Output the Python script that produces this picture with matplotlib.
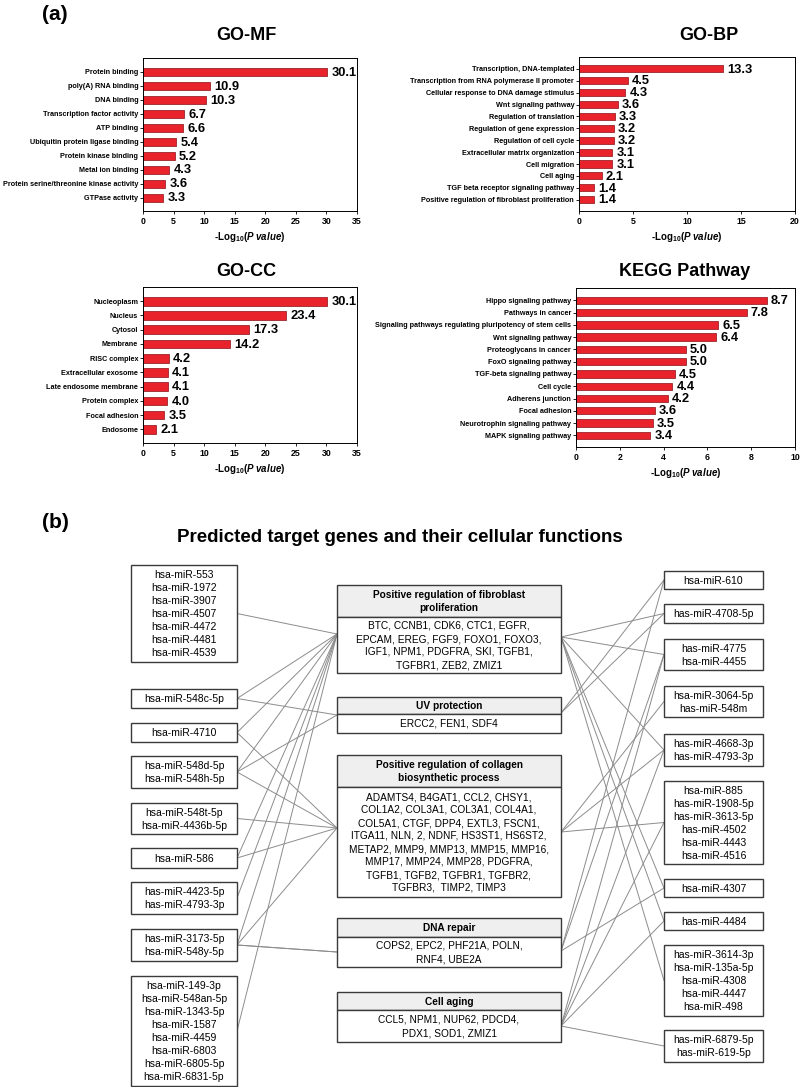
import matplotlib.pyplot as plt
from matplotlib.patches import Rectangle

plt.rcParams['font.family'] = ['Liberation Sans', 'DejaVu Sans']
plt.rcParams['mathtext.fontset'] = 'custom'
plt.rcParams['mathtext.rm'] = 'Liberation Sans'
plt.rcParams['mathtext.bf'] = 'Liberation Sans:bold'
plt.rcParams['mathtext.it'] = 'Liberation Sans:italic'
plt.rcParams['mathtext.bfit'] = 'Liberation Sans:bold:italic'

# ---- (a) enrichment data ----
mf_terms = ["Protein binding", "poly(A) RNA binding", "DNA binding", "Transcription factor activity",
            "ATP binding", "Ubiquitin protein ligase binding", "Protein kinase binding",
            "Metal ion binding", "Protein serine/threonine kinase activity", "GTPase activity"]
mf_values = [30.1, 10.9, 10.3, 6.7, 6.6, 5.4, 5.2, 4.3, 3.6, 3.3]

bp_terms = ["Transcription, DNA-templated", "Transcription from RNA polymerase II promoter",
            "Cellular response to DNA damage stimulus", "Wnt signaling pathway",
            "Regulation of translation", "Regulation of gene expression", "Regulation of cell cycle",
            "Extracellular matrix organization", "Cell migration", "Cell aging",
            "TGF beta receptor signaling pathway", "Positive regulation of fibroblast proliferation"]
bp_values = [13.3, 4.5, 4.3, 3.6, 3.3, 3.2, 3.2, 3.1, 3.1, 2.1, 1.4, 1.4]

cc_terms = ["Nucleoplasm", "Nucleus", "Cytosol", "Membrane", "RISC complex", "Extracellular exosome",
            "Late endosome membrane", "Protein complex", "Focal adhesion", "Endosome"]
cc_values = [30.1, 23.4, 17.3, 14.2, 4.2, 4.1, 4.1, 4.0, 3.5, 2.1]

kegg_terms = ["Hippo signaling pathway", "Pathways in cancer",
              "Signaling pathways regulating pluripotency of stem cells", "Wnt signaling pathway",
              "Proteoglycans in cancer", "FoxO signaling pathway", "TGF-beta signaling pathway",
              "Cell cycle", "Adherens junction", "Focal adhesion", "Neurotrophin signaling pathway",
              "MAPK signaling pathway"]
kegg_values = [8.7, 7.8, 6.5, 6.4, 5.0, 5.0, 4.5, 4.4, 4.2, 3.6, 3.5, 3.4]

# ---- (b) network data ----
left_mirnas = [
    ["hsa-miR-553", "hsa-miR-1972", "hsa-miR-3907", "hsa-miR-4507", "hsa-miR-4472", "hsa-miR-4481", "hsa-miR-4539"],
    ["hsa-miR-548c-5p"],
    ["hsa-miR-4710"],
    ["hsa-miR-548d-5p", "hsa-miR-548h-5p"],
    ["hsa-miR-548t-5p", "hsa-miR-4436b-5p"],
    ["hsa-miR-586"],
    ["has-miR-4423-5p", "has-miR-4793-3p"],
    ["has-miR-3173-5p", "hsa-miR-548y-5p"],
    ["hsa-miR-149-3p", "hsa-miR-548an-5p", "hsa-miR-1343-5p", "hsa-miR-1587", "hsa-miR-4459",
     "hsa-miR-6803", "hsa-miR-6805-5p", "hsa-miR-6831-5p"],
]
right_mirnas = [
    ["hsa-miR-610"],
    ["has-miR-4708-5p"],
    ["has-miR-4775", "hsa-miR-4455"],
    ["hsa-miR-3064-5p", "has-miR-548m"],
    ["has-miR-4668-3p", "has-miR-4793-3p"],
    ["hsa-miR-885", "has-miR-1908-5p", "has-miR-3613-5p", "has-miR-4502", "hsa-miR-4443", "hsa-miR-4516"],
    ["hsa-miR-4307"],
    ["has-miR-4484"],
    ["has-miR-3614-3p", "hsa-miR-135a-5p", "hsa-miR-4308", "hsa-miR-4447", "hsa-miR-498"],
    ["has-miR-6879-5p", "has-miR-619-5p"],
]
func_names = [
    ["Positive regulation of fibroblast", "proliferation"],
    ["UV protection"],
    ["Positive regulation of collagen", "biosynthetic process"],
    ["DNA repair"],
    ["Cell aging"],
]
func_genes = [
    ["BTC, CCNB1, CDK6, CTC1, EGFR,", "EPCAM, EREG, FGF9, FOXO1, FOXO3,",
     "IGF1, NPM1, PDGFRA, SKI, TGFB1,", "TGFBR1, ZEB2, ZMIZ1"],
    ["ERCC2, FEN1, SDF4"],
    ["ADAMTS4, B4GAT1, CCL2, CHSY1,", "COL1A2, COL3A1, COL3A1, COL4A1,",
     "COL5A1, CTGF, DPP4, EXTL3, FSCN1,", "ITGA11, NLN, 2, NDNF, HS3ST1, HS6ST2,",
     "METAP2, MMP9, MMP13, MMP15, MMP16,", "MMP17, MMP24, MMP28, PDGFRA,",
     "TGFB1, TGFB2, TGFBR1, TGFBR2,", "TGFBR3,  TIMP2, TIMP3"],
    ["COPS2, EPC2, PHF21A, POLN,", "RNF4, UBE2A"],
    ["CCL5, NPM1, NUP62, PDCD4,", "PDX1, SOD1, ZMIZ1"],
]
# links: (left box, function) and (function, right box)
left_links = [(0, 0), (1, 0), (1, 1), (2, 0), (2, 2), (3, 0), (3, 1), (3, 2), (4, 2),
              (5, 0), (5, 2), (6, 0), (7, 0), (7, 2), (7, 3), (7, 3), (8, 0)]
right_links = [(0, 1), (0, 2), (0, 4), (0, 6), (0, 7), (0, 8),
               (1, 0), (1, 1),
               (2, 3), (2, 4), (2, 5),
               (3, 0), (3, 2), (3, 6),
               (4, 2), (4, 4), (4, 5), (4, 7), (4, 9)]

# ---- layout (pixel coordinates) ----
W, H = 800, 1087
left_x = (131, 237)
left_y = [(565, 662), (689, 708), (723, 742), (756, 788), (803, 834), (848, 868), (882, 914), (929, 961), (976, 1086)]
right_x = (664, 763)
right_y = [(571, 589), (604, 623), (639, 670), (686, 717), (734, 766), (781, 864), (879, 897), (912, 930), (945, 1016), (1030, 1062)]
mid_x = (337, 561)
mid_y = [(585, 617, 673), (697, 714, 733), (755, 787, 897), (918, 937, 967), (992, 1010, 1042)]
mid_in = [634, 715, 828, 952, 1027]
mid_out = [637, 713, 832, 951, 1026]
LINE = 13.0

fig = plt.figure(figsize=(8, 10.87), dpi=100)
canvas = fig.add_axes([0, 0, 1, 1])
canvas.set_xlim(0, W)
canvas.set_ylim(H, 0)
canvas.axis('off')


def px_axes(left, top, right, bottom):
    return fig.add_axes([left / W, 1 - bottom / H, (right - left) / W, (bottom - top) / H])


def bar_panel(box, terms, values, xmax, step):
    ax = px_axes(*box)
    ypos = list(range(len(terms)))
    ax.barh(ypos, values, height=0.6, color='#e8232b', edgecolor='#8a1014', linewidth=0.5)
    ax.set_ylim(len(terms) - 0.05, -1.0)
    ax.set_yticks(ypos)
    ax.set_yticklabels(terms, fontsize=5.2, fontweight='bold')
    ax.set_xlim(0, xmax)
    ax.set_xticks(range(0, xmax + 1, step))
    ax.tick_params(axis='x', labelsize=6.3, length=2.5, width=0.6, pad=2)
    ax.tick_params(axis='y', length=2, width=0.6, pad=1.5)
    for lab in ax.get_xticklabels():
        lab.set_fontweight('bold')
    for s in ax.spines.values():
        s.set_linewidth(0.7)
    for v, yi in zip(values, ypos):
        ax.annotate(f'{v:.1f}', (v, yi), xytext=(3, -0.5), textcoords='offset points',
                    va='center', ha='left', fontsize=9.3, fontweight='bold')
    ax.set_xlabel(r'-Log$_{\mathbf{10}}$($\mathbfit{P\ value}$)', fontsize=7,
                  fontweight='bold', labelpad=3)
    return ax


bar_panel((143, 58, 357, 211), mf_terms, mf_values, 35, 5)
bar_panel((579, 57, 795, 211), bp_terms, bp_values, 20, 5)
bar_panel((143, 287, 357, 443), cc_terms, cc_values, 35, 5)
bar_panel((576, 288, 795, 447), kegg_terms, kegg_values, 10, 2)

canvas.text(246, 36, "GO-MF", fontsize=13, fontweight='bold', ha='center', va='center')
canvas.text(709, 36, "GO-BP", fontsize=13, fontweight='bold', ha='center', va='center')
canvas.text(246, 272, "GO-CC", fontsize=13, fontweight='bold', ha='center', va='center')
canvas.text(685, 272, "KEGG Pathway", fontsize=13, fontweight='bold', ha='center', va='center')
canvas.text(42, 15, "(a)", fontsize=15, fontweight='bold', ha='left', va='center')
canvas.text(42, 523, "(b)", fontsize=15, fontweight='bold', ha='left', va='center')
canvas.text(400, 537, "Predicted target genes and their cellular functions",
            fontsize=13.5, fontweight='bold', ha='center', va='center')

EDGE = '#3a3a3a'
LINK = '#8c8c8c'


def text_lines(x, yc, lines, **kw):
    # baseline placed on whole pixels so that every row gets the same spacing
    n = len(lines)
    for i, t in enumerate(lines):
        yb = int(round(yc + (i - (n - 1) / 2) * LINE + 3.7))
        canvas.text(x, yb, t, ha='center', va='baseline', **kw)


# links first, boxes on top
for li, fi in left_links:
    y0 = sum(left_y[li]) / 2
    canvas.plot([left_x[1], mid_x[0]], [y0, mid_in[fi]], color=LINK, lw=0.7, zorder=1)
for fi, ri in right_links:
    y1 = sum(right_y[ri]) / 2
    canvas.plot([mid_x[1], right_x[0]], [mid_out[fi], y1], color=LINK, lw=0.7, zorder=1)

for names, (t, b) in zip(left_mirnas, left_y):
    canvas.add_patch(Rectangle((left_x[0], t), left_x[1] - left_x[0], b - t,
                               facecolor='white', edgecolor=EDGE, lw=1.0, zorder=2))
    text_lines(sum(left_x) / 2, (t + b) / 2, names, fontsize=7.5, zorder=3)

for names, (t, b) in zip(right_mirnas, right_y):
    canvas.add_patch(Rectangle((right_x[0], t), right_x[1] - right_x[0], b - t,
                               facecolor='white', edgecolor=EDGE, lw=1.0, zorder=2))
    text_lines(sum(right_x) / 2, (t + b) / 2, names, fontsize=7.5, zorder=3)

for head, genes, (t, m, b) in zip(func_names, func_genes, mid_y):
    w = mid_x[1] - mid_x[0]
    canvas.add_patch(Rectangle((mid_x[0], t), w, m - t, facecolor='#efefef',
                               edgecolor=EDGE, lw=1.0, zorder=2))
    canvas.add_patch(Rectangle((mid_x[0], m), w, b - m, facecolor='white',
                               edgecolor=EDGE, lw=1.0, zorder=2))
    text_lines(sum(mid_x) / 2, (t + m) / 2, head, fontsize=7.3, fontweight='bold', zorder=3)
    text_lines(sum(mid_x) / 2, (m + b) / 2, genes, fontsize=7.3, zorder=3)

fig.savefig('out.png', dpi=100)
